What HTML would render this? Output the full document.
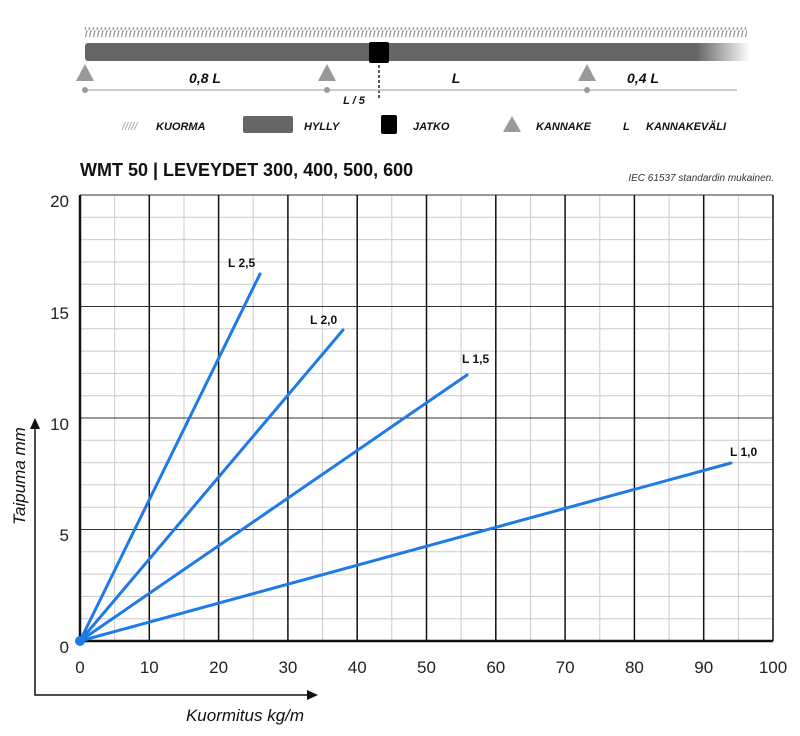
<!DOCTYPE html>
<html><head><meta charset="utf-8"><style>
html,body{margin:0;padding:0;background:#fff;}
svg{display:block;font-family:"Liberation Sans",sans-serif;}
</style></head><body>
<svg width="800" height="736" viewBox="0 0 800 736" xmlns="http://www.w3.org/2000/svg">
<defs>
<pattern id="hatch" width="4" height="10" patternUnits="userSpaceOnUse">
<line x1="1" y1="10" x2="3" y2="0" stroke="#999" stroke-width="1.3"/>
</pattern>
<linearGradient id="fade" x1="0" x2="1">
<stop offset="0.92" stop-color="#666"/><stop offset="1" stop-color="#666" stop-opacity="0"/>
</linearGradient>
</defs>
<rect x="85" y="27" width="662" height="10" fill="url(#hatch)"/>
<rect x="85" y="43" width="665" height="18" rx="3" fill="url(#fade)"/>
<rect x="369" y="42" width="20" height="21" rx="2" fill="#000"/>
<line x1="379" y1="65" x2="379" y2="98" stroke="#000" stroke-width="1.3" stroke-dasharray="3,2"/>
<polygon points="85,64 76,81 94,81" fill="#999"/>
<polygon points="327,64 318,81 336,81" fill="#999"/>
<polygon points="587,64 578,81 596,81" fill="#999"/>
<line x1="85" y1="90" x2="737" y2="90" stroke="#bbb" stroke-width="1.5"/>
<circle cx="85" cy="90" r="3" fill="#999"/><circle cx="327" cy="90" r="3" fill="#999"/><circle cx="587" cy="90" r="3" fill="#999"/>
<g font-style="italic" font-weight="bold" fill="#111">
<text x="205" y="83" font-size="14" text-anchor="middle">0,8 L</text>
<text x="456" y="83" font-size="14" text-anchor="middle">L</text>
<text x="643" y="83" font-size="14" text-anchor="middle">0,4 L</text>
<text x="354" y="104" font-size="11" text-anchor="middle">L / 5</text>
<g font-size="11">
<text x="122" y="130" fill="#999" font-weight="normal">/////</text>
<text x="156" y="130">KUORMA</text>
<text x="304" y="130">HYLLY</text>
<text x="413" y="130">JATKO</text>
<text x="536" y="130">KANNAKE</text>
<text x="623" y="130">L</text>
<text x="646" y="130">KANNAKEVÄLI</text>
</g>
</g>
<rect x="243" y="116" width="50" height="17" rx="2" fill="#666"/>
<rect x="381" y="115" width="16" height="19" rx="2" fill="#000"/>
<polygon points="512,116 503,132 521,132" fill="#999"/>
<text x="80" y="176" font-size="18" font-weight="bold" fill="#111">WMT 50 | LEVEYDET 300, 400, 500, 600</text>
<text x="774" y="181" font-size="10" font-style="italic" fill="#333" text-anchor="end">IEC 61537 standardin mukainen.</text>
<path d="M114.65 195V641M184 195V641M253.2 195V641M322.5 195V641M391.8 195V641M461.1 195V641M530.5 195V641M599.8 195V641M669.1 195V641M738.4 195V641
M80 618.7H773M80 596.4H773M80 574.1H773M80 551.8H773M80 507.2H773M80 484.9H773M80 462.6H773M80 440.3H773M80 395.7H773M80 373.4H773M80 351.1H773M80 328.8H773M80 284.2H773M80 261.9H773M80 239.6H773M80 217.3H773" stroke="#ccc" stroke-width="1" fill="none"/>
<path d="M80 529.5H773M80 418H773M80 306.5H773M80 195H773" stroke="#333" stroke-width="1" fill="none"/>
<path d="M149.3 195V641M218.6 195V641M287.9 195V641M357.2 195V641M426.5 195V641M495.8 195V641M565.1 195V641M634.4 195V641M703.7 195V641M773 195V641" stroke="#111" stroke-width="1.5" fill="none"/>
<path d="M80 195V641H773" stroke="#111" stroke-width="2.5" fill="none"/>
<g stroke="#1f7ae8" stroke-width="3" stroke-linecap="round">
<line x1="80" y1="641" x2="260" y2="274"/>
<line x1="80" y1="641" x2="343" y2="330"/>
<line x1="80" y1="641" x2="467" y2="375"/>
<line x1="80" y1="641" x2="731" y2="463"/>
</g>
<circle cx="80" cy="641" r="5" fill="#1f7ae8"/>
<g font-size="12" font-weight="bold" fill="#111">
<text x="228" y="267">L 2,5</text>
<text x="310" y="324">L 2,0</text>
<text x="462" y="363">L 1,5</text>
<text x="730" y="456">L 1,0</text>
</g>
<g font-size="17" fill="#222" text-anchor="end">
<text x="69" y="207">20</text><text x="69" y="319">15</text><text x="69" y="430">10</text><text x="69" y="541">5</text><text x="69" y="653">0</text>
</g>
<g font-size="17" fill="#222" text-anchor="middle">
<text x="80" y="673">0</text><text x="149.3" y="673">10</text><text x="218.6" y="673">20</text><text x="287.9" y="673">30</text><text x="357.2" y="673">40</text><text x="426.5" y="673">50</text><text x="495.8" y="673">60</text><text x="565.1" y="673">70</text><text x="634.4" y="673">80</text><text x="703.7" y="673">90</text><text x="773" y="673">100</text>
</g>
<path d="M35 425V695H310" stroke="#111" stroke-width="1.5" fill="none"/>
<polygon points="35,418 30,429 40,429" fill="#111"/>
<polygon points="318,695 307,690 307,700" fill="#111"/>
<text x="245" y="721" font-size="17" font-style="italic" fill="#111" text-anchor="middle">Kuormitus kg/m</text>
<text transform="translate(25,476) rotate(-90)" font-size="17" font-style="italic" fill="#111" text-anchor="middle">Taipuma mm</text>
</svg>
</body></html>
